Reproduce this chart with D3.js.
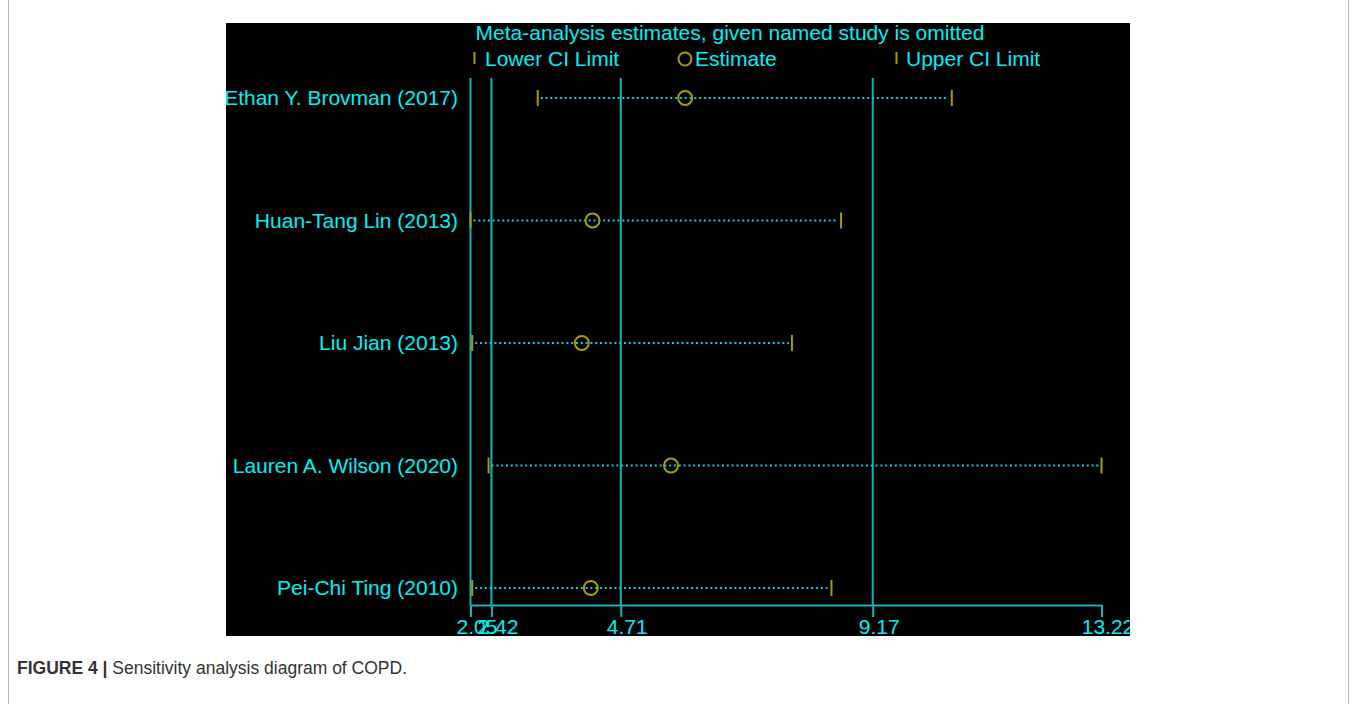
<!DOCTYPE html>
<html>
<head>
<meta charset="utf-8">
<script src="https://cdn.jsdelivr.net/npm/d3@7"></script>
<style>
  body { margin: 0; background: #fff; }
  svg { display: block; font-family: "Liberation Sans", Arial, sans-serif; }
</style>
</head>
<body>
<svg id="chart"></svg>
<script>
// study names, top to bottom
var studies = ["Ethan Y. Brovman (2017)", "Huan-Tang Lin (2013)", "Liu Jian (2013)",
               "Lauren A. Wilson (2020)", "Pei-Chi Ting (2010)"];
// estimates when the named study is omitted
var lowerCI  = [3.24, 2.05, 2.08, 2.37, 2.08];
var estimate = [5.85, 4.21, 4.02, 5.60, 4.18];
var upperCI  = [10.57, 8.61, 7.74, 13.22, 8.44];
// overall pooled estimate (reference lines)
var overall = [2.42, 4.71, 9.17];
// axis tick values and labels
var tickValues = [2.05, 2.42, 4.71, 9.17, 13.22];
var tickLabels = ["2.05", "2.42", "4.71", "9.17", "13.22"];

var W = 1357, H = 704;
var FS = 21;
var CYAN_TXT = "#00f0f4", CYAN_LINE = "#13b3ba", OLIVE = "#a89c00";

var svg = d3.select("#chart").attr("width", W).attr("height", H);

// page frame
svg.append("rect")
    .attr("x", 8.5).attr("y", -5).attr("width", 1340).attr("height", 720)
    .attr("fill", "#fff").attr("stroke", "#bbb");

// black chart box
var box = {x: 226, y: 23, w: 904, h: 613};
svg.append("clipPath").attr("id", "clip")
  .append("rect").attr("x", box.x).attr("y", box.y).attr("width", box.w).attr("height", box.h);
svg.append("rect")
    .attr("x", box.x).attr("y", box.y).attr("width", box.w).attr("height", box.h)
    .attr("fill", "#000");

var g = svg.append("g").attr("clip-path", "url(#clip)");

var x = d3.scaleLinear().domain([2.05, 13.22]).range([470.5, 1101.5]);
var y = d3.scalePoint().domain(studies).range([98, 588]);
var axisY = 605;

// title
g.append("text")
    .attr("x", 730).attr("y", 40)
    .attr("text-anchor", "middle")
    .attr("font-size", FS).attr("fill", CYAN_TXT)
    .text("Meta-analysis estimates, given named study is omitted");

// legend
var legY = 59;
g.append("line").attr("x1", 474.5).attr("x2", 474.5).attr("y1", legY - 7).attr("y2", legY + 5)
    .attr("stroke", OLIVE).attr("stroke-width", 2);
g.append("text").attr("x", 485).attr("y", legY + 7).attr("font-size", FS).attr("fill", CYAN_TXT)
    .text("Lower CI Limit");
g.append("circle").attr("cx", 685).attr("cy", legY).attr("r", 6.5)
    .attr("fill", "none").attr("stroke", OLIVE).attr("stroke-width", 2);
g.append("text").attr("x", 695).attr("y", legY + 7).attr("font-size", FS).attr("fill", CYAN_TXT)
    .text("Estimate");
g.append("line").attr("x1", 896.5).attr("x2", 896.5).attr("y1", legY - 7).attr("y2", legY + 5)
    .attr("stroke", OLIVE).attr("stroke-width", 2);
g.append("text").attr("x", 906).attr("y", legY + 7).attr("font-size", FS).attr("fill", CYAN_TXT)
    .text("Upper CI Limit");

// x axis
var xAxis = d3.axisBottom(x)
    .tickValues(tickValues)
    .tickFormat(function(d, i) { return tickLabels[i]; })
    .tickSizeInner(12).tickSizeOuter(0).tickPadding(0);

var ax = g.append("g")
    .attr("transform", "translate(0," + axisY + ")")
    .call(xAxis);
ax.select(".domain").attr("stroke", CYAN_LINE).attr("stroke-width", 2);
ax.selectAll(".tick line").attr("stroke", CYAN_LINE).attr("stroke-width", 2);
ax.selectAll(".tick text")
    .attr("fill", CYAN_TXT).attr("font-size", FS)
    .attr("font-family", "Liberation Sans, Arial, sans-serif")
    .attr("x", 6).attr("y", 14).attr("dy", "0.71em");

// vertical reference lines: axis start plus overall CI and estimate
g.selectAll(".refline")
  .data([tickValues[0]].concat(overall))
  .enter().append("line")
    .attr("class", "refline")
    .attr("x1", function(d) { return x(d); })
    .attr("x2", function(d) { return x(d); })
    .attr("y1", 78).attr("y2", axisY)
    .attr("stroke", CYAN_LINE).attr("stroke-width", 2);

// rows
var rows = g.selectAll(".row")
  .data(studies)
  .enter().append("g")
    .attr("class", "row")
    .attr("transform", function(d) { return "translate(0," + y(d) + ")"; });

rows.append("text")
    .attr("x", 458).attr("y", 7)
    .attr("text-anchor", "end")
    .attr("font-size", FS).attr("fill", CYAN_TXT)
    .text(function(d) { return d; });

rows.append("line")
    .attr("x1", function(d, i) { return x(lowerCI[i]) + 3; })
    .attr("x2", function(d, i) { return x(upperCI[i]) - 3; })
    .attr("y1", 0).attr("y2", 0)
    .attr("stroke", "#1cc8d0").attr("stroke-width", 2)
    .attr("stroke-dasharray", "2,2.8");

rows.append("line")
    .attr("x1", function(d, i) { return x(lowerCI[i]); })
    .attr("x2", function(d, i) { return x(lowerCI[i]); })
    .attr("y1", -8).attr("y2", 8)
    .attr("stroke", OLIVE).attr("stroke-width", 2);

rows.append("line")
    .attr("x1", function(d, i) { return x(upperCI[i]); })
    .attr("x2", function(d, i) { return x(upperCI[i]); })
    .attr("y1", -8).attr("y2", 8)
    .attr("stroke", OLIVE).attr("stroke-width", 2);

rows.append("circle")
    .attr("cx", function(d, i) { return x(estimate[i]); })
    .attr("cy", 0).attr("r", 7)
    .attr("fill", "none").attr("stroke", OLIVE).attr("stroke-width", 2);

// caption
var cap = svg.append("text").attr("x", 17).attr("y", 674)
    .attr("font-size", 17.5).attr("fill", "#333")
    .attr("font-family", "Liberation Sans, Arial, sans-serif");
cap.append("tspan").attr("font-weight", "bold").text("FIGURE 4 | ");
cap.append("tspan").text("Sensitivity analysis diagram of COPD.");
</script>
</body>
</html>
